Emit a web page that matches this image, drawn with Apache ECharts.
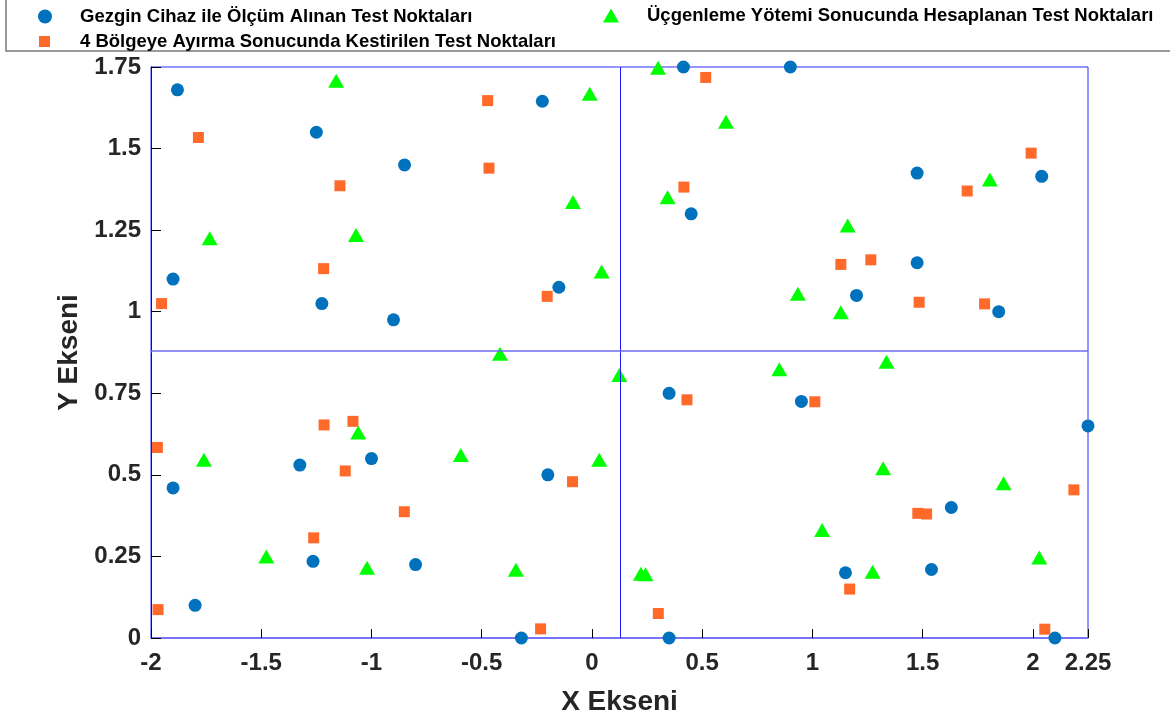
<!doctype html>
<html lang='tr'>
<head>
<title>Test Noktaları</title>
<meta charset='utf-8'>
<style>
html, body { margin: 0; padding: 0; background: #fff; }
.chart { width: 1170px; height: 721px; }
</style>
</head>
<body>
<div class="chart"></div>
<script src="https://cdn.jsdelivr.net/npm/echarts@6/dist/echarts.min.js"></script>
<script>
// seri adları
const seriesNames = [
    'Gezgin Cihaz ile Ölçüm Alınan Test Noktaları',
    'Üçgenleme Yötemi Sonucunda Hesaplanan Test Noktaları',
    '4 Bölgeye Ayırma Sonucunda Kestirilen Test Noktaları'
];

// gezgin cihaz ölçümleri [x, y]
const gezginPoints = [
    [-1.88, 1.68], [-1.25, 1.55], [-0.85, 1.45], [-0.225, 1.645], [-1.90, 1.10], [-1.225, 1.025], [-0.90, 0.975], [-0.15, 1.075],
    [0.415, 1.75], [0.90, 1.75], [1.475, 1.425], [2.04, 1.415], [0.45, 1.30], [1.475, 1.15], [1.20, 1.05], [1.845, 1.0],
    [-1.90, 0.46], [-1.80, 0.10], [-1.325, 0.53], [-1.0, 0.55], [-1.265, 0.235], [-0.80, 0.225], [-0.20, 0.50], [-0.32, 0],
    [0.35, 0.75], [0.95, 0.725], [2.25, 0.65], [1.63, 0.40], [1.54, 0.21], [1.15, 0.20], [0.35, 0], [2.10, 0]
];

// üçgenleme sonuçları
const ucgenPoints = [
    [-1.16, 1.708], [-0.01, 1.668], [-1.734, 1.225], [-1.07, 1.235], [-0.086, 1.336], [0.044, 1.123],
    [0.30, 1.748], [0.608, 1.582], [0.343, 1.351], [1.805, 1.405], [1.16, 1.264], [0.934, 1.055], [1.129, 0.998],
    [-1.76, 0.546], [-1.06, 0.63], [-0.595, 0.561], [0.033, 0.546], [-1.477, 0.25], [-1.02, 0.215], [-0.345, 0.209], [-0.417, 0.871],
    [0.124, 0.806], [0.85, 0.824], [1.336, 0.847], [1.321, 0.52], [1.867, 0.474], [1.044, 0.331], [1.273, 0.203], [2.029, 0.247],
    [0.222, 0.197], [0.243, 0.195]
];

// 4 bölge kestirimleri
const bolgePoints = [
    [-1.785, 1.534], [-0.473, 1.647], [-0.467, 1.44], [-1.143, 1.386], [-1.217, 1.132], [-1.952, 1.025], [-0.203, 1.047],
    [0.516, 1.718], [1.992, 1.486], [0.417, 1.382], [1.702, 1.37], [1.129, 1.145], [1.265, 1.159], [1.484, 1.029], [1.781, 1.024],
    [-1.971, 0.584], [-1.215, 0.653], [-1.084, 0.664], [-1.119, 0.512], [-0.851, 0.387], [-1.262, 0.307], [-1.968, 0.087],
    [-0.088, 0.479], [-0.233, 0.028],
    [0.431, 0.73], [1.011, 0.724], [2.186, 0.454], [1.478, 0.382], [1.518, 0.38], [1.169, 0.15], [0.301, 0.075], [2.054, 0.027]
];

// bölge sınırları
const splitX = 0.125;
const splitY = 0.875;

const font = 'Liberation Sans, Arial, sans-serif';
// metni ikondan uzaklaştırmak için sol padding
const legendText = function (padLeft) {
    return { fontFamily: font, fontSize: 18.5, fontWeight: 'bold', color: '#000', padding: [0, 0, 0, padLeft] };
};

const chart = echarts.init(document.querySelector('.chart'));
chart.setOption({
    animation: false,
    textStyle: { fontFamily: font },
    graphic: [{
        type: 'rect',
        shape: { x: 6, y: -2, width: 1170, height: 53 },
        style: { fill: 'none', stroke: '#7a7a7a', lineWidth: 1.5 },
        silent: true
    }],
    legend: [
        { data: [seriesNames[0]], left: 38, top: 7, padding: 0, itemWidth: 14, itemHeight: 14, textStyle: legendText(23) },
        { data: [seriesNames[1]], left: 603, top: 6, padding: 0, itemWidth: 16, itemHeight: 14, textStyle: legendText(23) },
        { data: [seriesNames[2]], left: 39, top: 32, padding: 0, itemWidth: 11, itemHeight: 11, textStyle: legendText(25) }
    ],
    grid: {
        left: 151, right: 82, top: 67, bottom: 83,
        show: true, borderColor: '#2a2aff', borderWidth: 1
    },
    xAxis: {
        type: 'value',
        min: -2, max: 2.25, interval: 0.5,
        name: 'X Ekseni',
        nameLocation: 'middle',
        nameGap: 50,
        nameTextStyle: { fontSize: 28, fontWeight: 'bold', color: '#262626' },
        axisLine: { show: true, onZero: false, lineStyle: { color: '#6b6bf2', width: 1.5 } },
        axisTick: { show: true, inside: true, length: 9, lineStyle: { color: '#000' } },
        axisLabel: { fontSize: 24, fontWeight: 'bold', color: '#262626', margin: 13 },
        splitLine: { show: false }
    },
    yAxis: {
        type: 'value',
        min: 0, max: 1.75, interval: 0.25,
        name: 'Y Ekseni',
        nameLocation: 'middle',
        nameRotate: 90,
        nameGap: 68,
        nameTextStyle: { fontSize: 28, fontWeight: 'bold', color: '#262626' },
        axisLine: { show: true, onZero: false, lineStyle: { color: '#0000ff', width: 1 } },
        axisTick: { show: true, inside: true, length: 10, lineStyle: { color: '#000' } },
        axisLabel: { fontSize: 24, fontWeight: 'bold', color: '#262626', margin: 10 },
        splitLine: { show: false }
    },
    series: [
        {
            name: seriesNames[0],
            type: 'scatter',
            symbol: 'circle',
            symbolSize: 13,
            itemStyle: { color: '#0072BD', opacity: 1 },
            data: gezginPoints,
            markLine: {
                silent: true,
                symbol: 'none',
                label: { show: false },
                data: [
                    { xAxis: splitX, lineStyle: { color: '#1a1aff', width: 1, type: 'solid' } },
                    { yAxis: splitY, lineStyle: { color: '#6b6bf2', width: 1.5, type: 'solid' } }
                ]
            }
        },
        {
            name: seriesNames[1],
            type: 'scatter',
            symbol: 'triangle',
            symbolSize: [16, 14],
            itemStyle: { color: '#00FF00', opacity: 1 },
            data: ucgenPoints
        },
        {
            name: seriesNames[2],
            type: 'scatter',
            symbol: 'rect',
            symbolSize: 11,
            itemStyle: { color: '#FF6929', opacity: 1 },
            data: bolgePoints
        }
    ]
});
</script>
</body>
</html>
